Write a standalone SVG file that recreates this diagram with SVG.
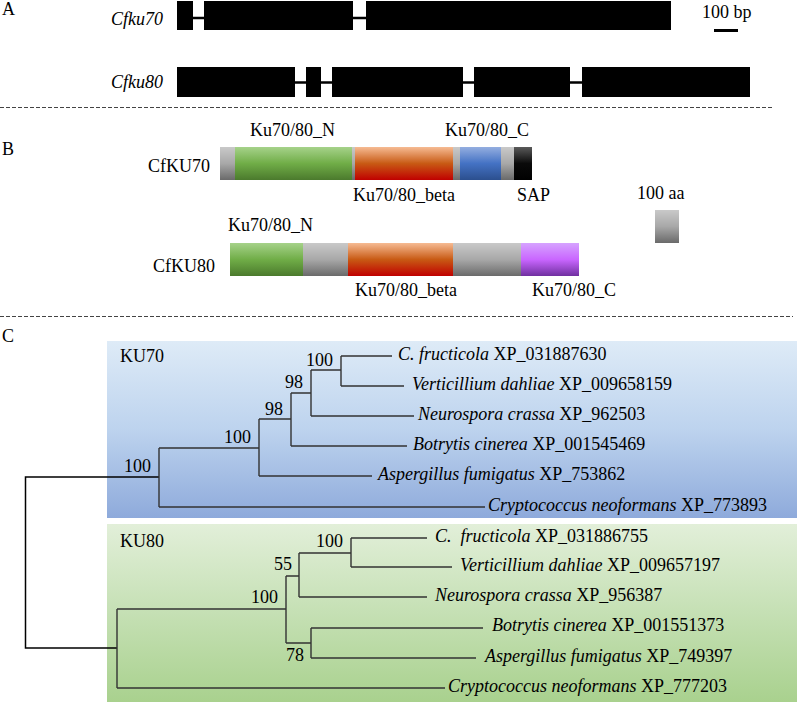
<svg xmlns="http://www.w3.org/2000/svg" width="800" height="702" viewBox="0 0 800 702">
<style>
text{font-family:"Liberation Serif","Times New Roman",serif;font-size:18px;fill:#000}
.i{font-style:italic}
.e{text-anchor:end}
.exon{fill:#000}
.intron{stroke:#000;stroke-width:2.5;fill:none}
.dash{stroke:#444;stroke-width:1;stroke-dasharray:4 2;fill:none}
.br{stroke:#333;stroke-width:1.4;fill:none}
.root{stroke:#000;stroke-width:1.5;fill:none}
</style>
<defs>
<linearGradient id="gGray" x1="0" y1="0" x2="0" y2="1"><stop offset="0" stop-color="#c9c9c9"/><stop offset="0.5" stop-color="#a8a8a8"/><stop offset="1" stop-color="#6a6a6a"/></linearGradient>
<linearGradient id="gGreen" x1="0" y1="0" x2="0" y2="1"><stop offset="0" stop-color="#a6d28a"/><stop offset="0.5" stop-color="#70ad47"/><stop offset="1" stop-color="#4b7a2d"/></linearGradient>
<linearGradient id="gOrange" x1="0" y1="0" x2="0" y2="1"><stop offset="0" stop-color="#f6bb93"/><stop offset="0.5" stop-color="#c85a14"/><stop offset="1" stop-color="#c00000"/></linearGradient>
<linearGradient id="gBlue" x1="0" y1="0" x2="0" y2="1"><stop offset="0" stop-color="#94aee0"/><stop offset="0.5" stop-color="#4472c4"/><stop offset="1" stop-color="#2b4f8e"/></linearGradient>
<linearGradient id="gBlack" x1="0" y1="0" x2="0" y2="1"><stop offset="0" stop-color="#5a5a5a"/><stop offset="0.5" stop-color="#0a0a0a"/><stop offset="1" stop-color="#000"/></linearGradient>
<linearGradient id="gPurple" x1="0" y1="0" x2="0" y2="1"><stop offset="0" stop-color="#d6a3ff"/><stop offset="0.5" stop-color="#c966ff"/><stop offset="1" stop-color="#7030a0"/></linearGradient>
<linearGradient id="gBoxBlue" x1="0" y1="0" x2="0" y2="1"><stop offset="0" stop-color="#deebf7"/><stop offset="0.5" stop-color="#bdd3ee"/><stop offset="1" stop-color="#8eaadb"/></linearGradient>
<linearGradient id="gBoxGreen" x1="0" y1="0" x2="0" y2="1"><stop offset="0" stop-color="#e2efd9"/><stop offset="0.5" stop-color="#c5e0b4"/><stop offset="1" stop-color="#a9d18e"/></linearGradient>
</defs>

<!-- Panel A -->
<g id="panelA">
<text x="2" y="15">A</text>
<g id="Cfku70">
<text class="i e" x="163" y="25">Cfku70</text>
<path class="intron" d="M193,18H204M353,18H366"/>
<rect class="exon" x="177" y="1" width="16" height="29"/>
<rect class="exon" x="204" y="1" width="149" height="29"/>
<rect class="exon" x="366" y="1" width="305" height="29"/>
</g>
<g id="Cfku80">
<text class="i e" x="163" y="88">Cfku80</text>
<path class="intron" d="M295,82.5H306M321,82.5H332M463,82.5H474M570,82.5H582"/>
<rect class="exon" x="177" y="67" width="118" height="30"/>
<rect class="exon" x="306" y="67" width="15" height="30"/>
<rect class="exon" x="332" y="67" width="131" height="30"/>
<rect class="exon" x="474" y="67" width="96" height="30"/>
<rect class="exon" x="582" y="67" width="168" height="30"/>
</g>
<g id="scaleBp">
<text x="702" y="18">100 bp</text>
<rect x="714" y="29" width="24" height="3" fill="#000"/>
</g>
</g>
<path class="dash" d="M0,107.5H772"/>

<!-- Panel B -->
<g id="panelB">
<text x="2" y="155">B</text>
<g id="CfKU70">
<text class="e" x="210" y="172">CfKU70</text>
<rect x="220" y="147" width="15" height="33" fill="url(#gGray)"/>
<rect x="235" y="147" width="117" height="33" fill="url(#gGreen)"/>
<rect x="352" y="147" width="3" height="33" fill="url(#gGray)"/>
<rect x="355" y="147" width="98" height="33" fill="url(#gOrange)"/>
<rect x="453" y="147" width="7" height="33" fill="url(#gGray)"/>
<rect x="460" y="147" width="41" height="33" fill="url(#gBlue)"/>
<rect x="501" y="147" width="13" height="33" fill="url(#gGray)"/>
<rect x="514" y="147" width="18" height="33" fill="url(#gBlack)"/>
<text x="250" y="136">Ku70/80_N</text>
<text x="445" y="136">Ku70/80_C</text>
<text x="353" y="201">Ku70/80_beta</text>
<text x="517" y="201">SAP</text>
</g>
<g id="CfKU80">
<text class="e" x="215" y="272">CfKU80</text>
<rect x="230" y="243" width="73" height="33" fill="url(#gGreen)"/>
<rect x="303" y="243" width="45" height="33" fill="url(#gGray)"/>
<rect x="348" y="243" width="105" height="33" fill="url(#gOrange)"/>
<rect x="453" y="243" width="68" height="33" fill="url(#gGray)"/>
<rect x="521" y="243" width="58" height="33" fill="url(#gPurple)"/>
<text x="228" y="231">Ku70/80_N</text>
<text x="355" y="296">Ku70/80_beta</text>
<text x="532" y="296">Ku70/80_C</text>
</g>
<g id="scaleAa">
<text x="637" y="199">100 aa</text>
<rect x="655" y="210" width="24" height="33" fill="url(#gGray)"/>
</g>
</g>
<path class="dash" d="M0,316.5H793"/>

<!-- Panel C -->
<text x="2" y="342">C</text>
<g id="cladeKU70">
<rect x="107" y="341" width="690" height="177" fill="url(#gBoxBlue)"/>
<text x="120" y="362">KU70</text>
</g>
<g id="cladeKU80">
<rect x="107" y="524" width="690" height="178" fill="url(#gBoxGreen)"/>
<text x="120" y="547">KU80</text>
</g>

<g id="connectors">
<path class="root" d="M25.5,477H159M25.5,476.3V648.7M25.5,648H117"/>
<path class="br" d="M159,448V507M159,507H485M159,448H259
M259,419V476M259,476H372M259,419H291
M291,393V446M291,446H407M291,393H311
M311,370V416M311,416H414M311,370H341
M341,356V386M341,356H392M341,386H404"/>
<path class="br" d="M117,609V688M117,688H445M117,609H286
M286,576V643M286,576H299M286,643H311
M299,553V597M299,553H351M299,597H427
M351,538V567M351,538H427M351,567H452
M311,628V658M311,628H483M311,658H476"/>
</g>

<g id="bootstrap">
<text class="e" x="333" y="366">100</text>
<text class="e" x="303" y="388">98</text>
<text class="e" x="283" y="415">98</text>
<text class="e" x="251" y="443">100</text>
<text class="e" x="151" y="472">100</text>
<text class="e" x="343" y="547">100</text>
<text class="e" x="292" y="570">55</text>
<text class="e" x="278" y="603">100</text>
<text class="e" x="304" y="661">78</text>
</g>

<g id="tip70_Cf"><text x="398" y="360"><tspan class="i">C. fructicola</tspan> XP_031887630</text></g>
<g id="tip70_Vd"><text x="412" y="390"><tspan class="i">Verticillium dahliae</tspan> XP_009658159</text></g>
<g id="tip70_Nc"><text x="418" y="420"><tspan class="i">Neurospora crassa</tspan> XP_962503</text></g>
<g id="tip70_Bc"><text x="413" y="450"><tspan class="i">Botrytis cinerea</tspan> XP_001545469</text></g>
<g id="tip70_Af"><text x="378" y="480"><tspan class="i">Aspergillus fumigatus</tspan> XP_753862</text></g>
<g id="tip70_Cn"><text x="488" y="511"><tspan class="i">Cryptococcus neoformans</tspan> XP_773893</text></g>

<g id="tip80_Cf"><text x="435" y="542"><tspan class="i">C.</tspan><tspan class="i" dx="9">fructicola</tspan> XP_031886755</text></g>
<g id="tip80_Vd"><text x="460" y="571"><tspan class="i">Verticillium dahliae</tspan> XP_009657197</text></g>
<g id="tip80_Nc"><text x="435" y="601"><tspan class="i">Neurospora crassa</tspan> XP_956387</text></g>
<g id="tip80_Bc"><text x="492" y="631"><tspan class="i">Botrytis cinerea</tspan> XP_001551373</text></g>
<g id="tip80_Af"><text x="485" y="662"><tspan class="i">Aspergillus fumigatus</tspan> XP_749397</text></g>
<g id="tip80_Cn"><text x="448" y="692"><tspan class="i">Cryptococcus neoformans</tspan> XP_777203</text></g>
</svg>
